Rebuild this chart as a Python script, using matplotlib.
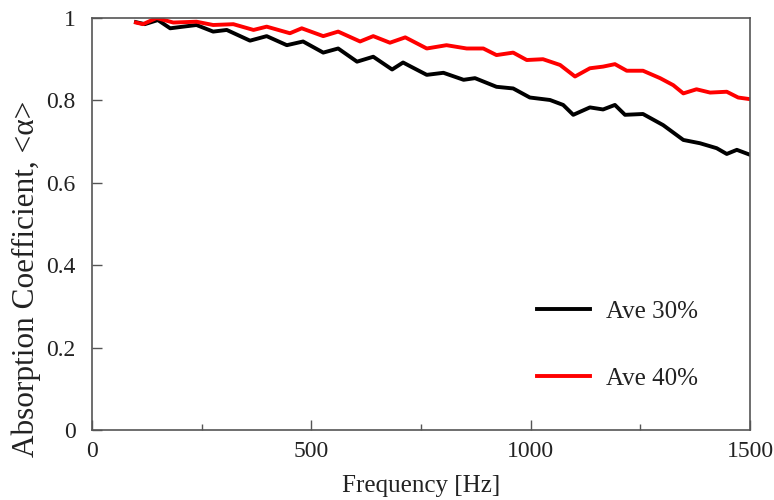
import matplotlib
matplotlib.use("Agg")
import matplotlib.pyplot as plt
from matplotlib.ticker import MultipleLocator

plt.rcParams['font.family'] = ['Liberation Serif', 'DejaVu Serif']

# Ave 30% (black)
f30 = [100, 120, 150, 178, 200, 238, 276, 307, 360, 398, 444, 481, 527, 561, 604, 641,
       684, 709, 725, 763, 801, 847, 873, 922, 960, 998, 1044, 1074, 1097, 1135, 1165,
       1192, 1215, 1256, 1302, 1348, 1386, 1424, 1447, 1470, 1500]
a30 = [0.99, 0.985, 0.995, 0.975, 0.978, 0.983, 0.967, 0.971, 0.945, 0.956, 0.934, 0.943,
       0.916, 0.926, 0.894, 0.906, 0.875, 0.892, 0.883, 0.862, 0.867, 0.850, 0.854, 0.833,
       0.829, 0.807, 0.801, 0.789, 0.765, 0.783, 0.778, 0.789, 0.765, 0.767, 0.740, 0.704,
       0.696, 0.684, 0.670, 0.680, 0.668]

# Ave 40% (red)
f40 = [100, 116, 147, 185, 238, 276, 322, 368, 398, 451, 478, 527, 561, 611, 641, 679,
       714, 725, 763, 808, 854, 892, 922, 960, 991, 1028, 1067, 1101, 1135, 1165, 1192,
       1219, 1256, 1295, 1325, 1348, 1378, 1409, 1447, 1473, 1500]
a40 = [0.989, 0.985, 1.0, 0.989, 0.991, 0.983, 0.985, 0.971, 0.979, 0.963, 0.975, 0.956,
       0.967, 0.943, 0.956, 0.940, 0.953, 0.947, 0.926, 0.934, 0.926, 0.926, 0.910, 0.916,
       0.898, 0.900, 0.886, 0.858, 0.878, 0.882, 0.888, 0.872, 0.872, 0.854, 0.837, 0.817,
       0.827, 0.819, 0.821, 0.807, 0.803]

fig = plt.figure(figsize=(7.74, 5.0), dpi=100)
ax = fig.add_axes([0.119, 0.14, 0.85, 0.824])

ax.plot(f30, a30, color='black', lw=2.8, label='Ave 30%')
ax.plot(f40, a40, color='#ff0000', lw=2.8, label='Ave 40%')

ax.set_xlim(0, 1500)
ax.set_ylim(0, 1)
ax.xaxis.set_major_locator(MultipleLocator(500))
ax.xaxis.set_minor_locator(MultipleLocator(250))
ax.set_yticks([0, 0.2, 0.4, 0.6, 0.8, 1.0])
ax.set_yticklabels(['0', '0.2', '0.4', '0.6', '0.8', '1'])

ax.tick_params(which='major', direction='in', length=7, width=1, labelsize=17,
               colors='#555555', labelcolor='#222222')
ax.tick_params(which='minor', direction='in', length=4, width=1, colors='#555555')
ax.tick_params(axis='x', pad=8)
ax.tick_params(axis='y', pad=12)
for s in ax.spines.values():
    s.set_color('#555555')
    s.set_linewidth(1.2)

ax.set_xlabel('Frequency [Hz]', fontsize=18, color='#222222', labelpad=9)
ax.set_ylabel('Absorption Coefficient, <α>', fontsize=22.5, color='#222222')
# label sits a little below the axes centre in the original
ax.yaxis.set_label_coords(-0.078, 0.368)

ax.legend(loc='center left', bbox_to_anchor=(537 / 774, 1 - 345 / 500),
          bbox_transform=fig.transFigure, frameon=False, fontsize=18,
          borderpad=0, borderaxespad=0, handlelength=2.1, handletextpad=0.68,
          labelspacing=1.78, labelcolor='#222222')

fig.savefig('out.png', dpi=100)
